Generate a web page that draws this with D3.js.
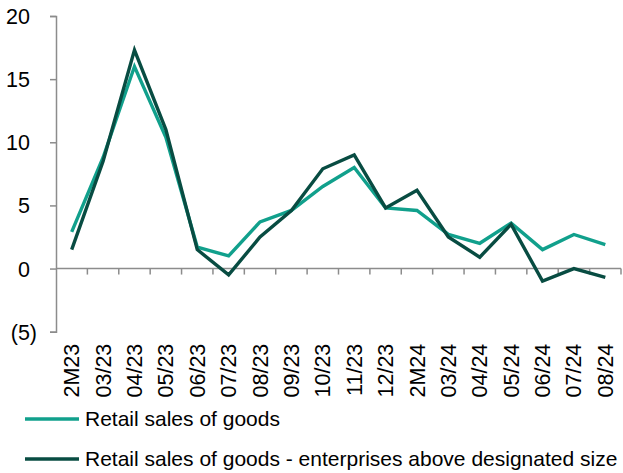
<!DOCTYPE html>
<html>
<head>
<meta charset="utf-8">
<script src="https://cdn.jsdelivr.net/npm/d3@7"></script>
<style>
  html, body { margin: 0; padding: 0; background: #fff; }
  svg { display: block; font-family: "Liberation Sans", Arial, sans-serif; }
</style>
</head>
<body>
<svg id="chart" width="623" height="473"></svg>
<script>
// Monthly periods (Jan-Feb combined as "2M")
const categories = ["2M23", "03/23", "04/23", "05/23", "06/23", "07/23", "08/23", "09/23",
  "10/23", "11/23", "12/23", "2M24", "03/24", "04/24", "05/24", "06/24", "07/24", "08/24"];

// Year-on-year growth, %
const retailSales = [2.9, 8.8, 16.0, 10.4, 1.7, 1.0, 3.7, 4.6, 6.5, 8.0, 4.8, 4.6, 2.7, 2.0, 3.6, 1.5, 2.7, 1.9];
const retailSalesAboveSize = [1.5, 8.5, 17.3, 11.0, 1.5, -0.5, 2.5, 4.6, 7.9, 9.0, 4.8, 6.2, 2.5, 0.9, 3.5, -1.0, 0.0, -0.7];

const yTicks = [-5, 0, 5, 10, 15, 20];

const seriesNames = ["Retail sales of goods", "Retail sales of goods - enterprises above designated size"];
const seriesColors = ["#11a08c", "#084c42"];

const svg = d3.select("#chart");
const plotLeft = 56, plotRight = 621, plotTop = 16, plotBottom = 331.7;
const fontSize = 21.5;
const legendFontSize = 21;
const axisColor = "#8c8c8c";

const x = d3.scaleBand().domain(categories).range([plotLeft, plotRight]).padding(0);
const y = d3.scaleLinear().domain([-5, 20]).range([plotBottom, plotTop]);

const fmt = v => v < 0 ? "(" + Math.abs(v) + ")" : String(v);

// Y axis
const yAxis = svg.append("g")
  .attr("transform", `translate(${plotLeft},0)`)
  .call(d3.axisLeft(y).tickValues(yTicks).tickSize(6).tickFormat(fmt));
yAxis.select(".domain").attr("stroke", axisColor).attr("stroke-width", 1.5);
yAxis.selectAll(".tick line").attr("stroke", axisColor).attr("stroke-width", 1.5);
yAxis.selectAll(".tick text")
  .attr("x", -19)
  .attr("dx", d => d < 0 ? 0 : "-0.333em")
  .attr("dy", "0.35em")
  .attr("font-size", fontSize)
  .attr("font-family", "Liberation Sans, Arial, sans-serif")
  .attr("fill", "#000");

// Zero line with tick marks at category boundaries
const zeroY = y(0);
svg.append("line")
  .attr("x1", plotLeft).attr("x2", plotRight)
  .attr("y1", zeroY).attr("y2", zeroY)
  .attr("stroke", axisColor).attr("stroke-width", 1.5);
const boundaries = categories.map(c => x(c) + x.bandwidth());
svg.append("g").selectAll("line")
  .data(boundaries)
  .join("line")
  .attr("x1", d => d).attr("x2", d => d)
  .attr("y1", zeroY).attr("y2", zeroY + 6)
  .attr("stroke", axisColor).attr("stroke-width", 1.5);

// Category labels, rotated, below the plot
svg.append("g").selectAll("text")
  .data(categories)
  .join("text")
  .attr("transform", d => `translate(${x(d) + x.bandwidth() / 2},${plotBottom + 12}) rotate(-90)`)
  .attr("text-anchor", "end")
  .attr("dy", "0.35em")
  .attr("font-size", fontSize)
  .attr("fill", "#000")
  .text(d => d);

// Lines
const line = d3.line()
  .x((d, i) => x(categories[i]) + x.bandwidth() / 2)
  .y(d => y(d));

[retailSales, retailSalesAboveSize].forEach((s, k) => {
  svg.append("path")
    .datum(s)
    .attr("fill", "none")
    .attr("stroke", seriesColors[k])
    .attr("stroke-width", 3.4)
    .attr("stroke-linejoin", "miter")
    .attr("d", line);
});

// Legend
const legendRows = [419, 459];
seriesNames.forEach((name, k) => {
  const g = svg.append("g").attr("transform", `translate(0,${legendRows[k]})`);
  g.append("line")
    .attr("x1", 25).attr("x2", 79)
    .attr("stroke", seriesColors[k]).attr("stroke-width", 3.4);
  g.append("text")
    .attr("x", 85).attr("dy", "0.35em")
    .attr("font-size", legendFontSize)
    .attr("fill", "#000")
    .text(name);
});
</script>
</body>
</html>
